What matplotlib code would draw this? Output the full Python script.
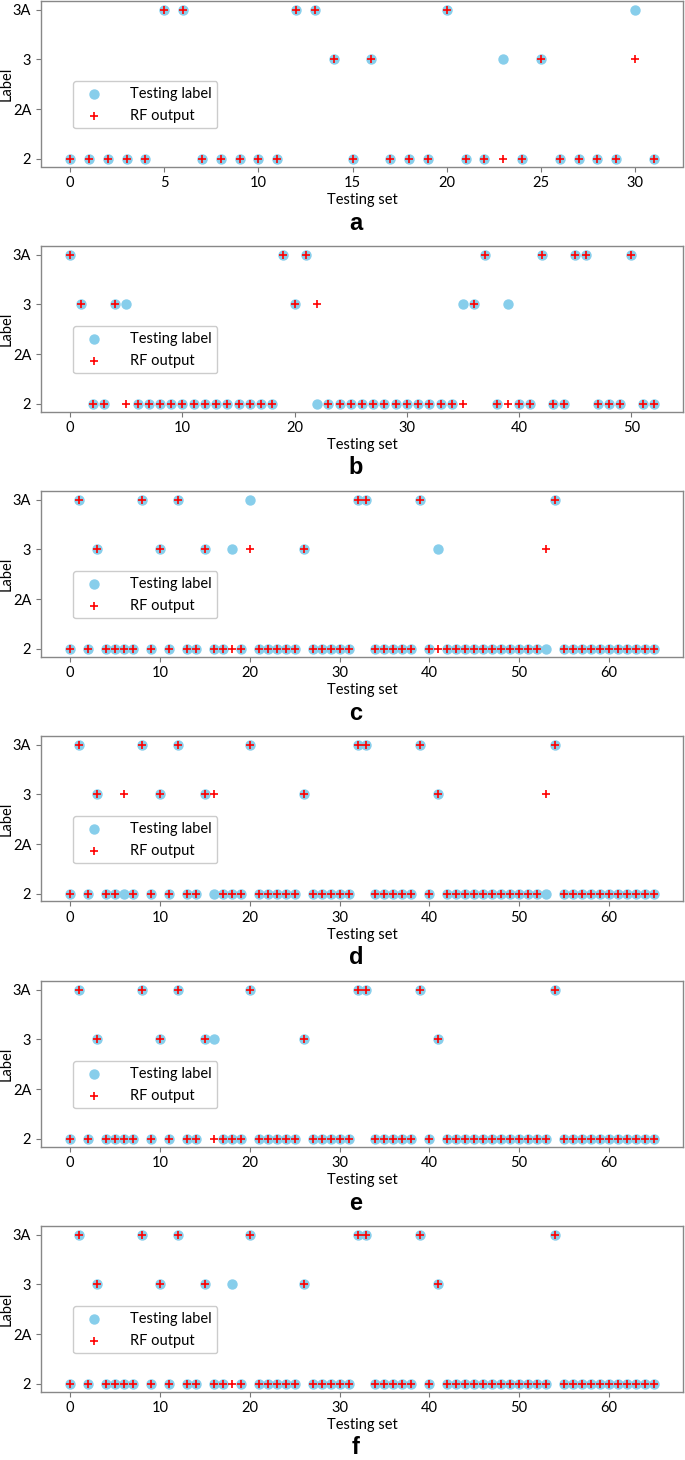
import matplotlib

matplotlib.use("Agg")
import numpy as np
from matplotlib import pyplot as plt

# y levels, bottom to top
LEVELS = ["2", "2A", "3", "3A"]
PANEL_NAMES = ["a", "b", "c", "d", "e", "f"]

# panel a: 32 test samples
truth_a = ["2", "2", "2", "2", "2", "3A", "3A", "2", "2", "2", "2", "2", "3A", "3A", "3", "2",
           "3", "2", "2", "2", "3A", "2", "2", "3", "2", "3", "2", "2", "2", "2", "3A", "2"]
pred_a = ["2", "2", "2", "2", "2", "3A", "3A", "2", "2", "2", "2", "2", "3A", "3A", "3", "2",
          "3", "2", "2", "2", "3A", "2", "2", "2", "2", "3", "2", "2", "2", "2", "3", "2"]

# panel b: 53 test samples
truth_b = ["3A", "3", "2", "2", "3", "3", "2", "2", "2", "2", "2", "2", "2", "2", "2", "2",
           "2", "2", "2", "3A", "3", "3A", "2", "2", "2", "2", "2", "2", "2", "2", "2", "2",
           "2", "2", "2", "3", "3", "3A", "2", "3", "2", "2", "3A", "2", "2", "3A", "3A", "2",
           "2", "2", "3A", "2", "2"]
pred_b = ["3A", "3", "2", "2", "3", "2", "2", "2", "2", "2", "2", "2", "2", "2", "2", "2",
          "2", "2", "2", "3A", "3", "3A", "3", "2", "2", "2", "2", "2", "2", "2", "2", "2",
          "2", "2", "2", "2", "3", "3A", "2", "2", "2", "2", "3A", "2", "2", "3A", "3A", "2",
          "2", "2", "3A", "2", "2"]

# panels c-f: 66 test samples
truth_c = ["2", "3A", "2", "3", "2", "2", "2", "2", "3A", "2", "3", "2", "3A", "2", "2", "3",
           "2", "2", "3", "2", "3A", "2", "2", "2", "2", "2", "3", "2", "2", "2", "2", "2",
           "3A", "3A", "2", "2", "2", "2", "2", "3A", "2", "3", "2", "2", "2", "2", "2", "2",
           "2", "2", "2", "2", "2", "2", "3A", "2", "2", "2", "2", "2", "2", "2", "2", "2",
           "2", "2"]
pred_c = ["2", "3A", "2", "3", "2", "2", "2", "2", "3A", "2", "3", "2", "3A", "2", "2", "3",
          "2", "2", "2", "2", "3", "2", "2", "2", "2", "2", "3", "2", "2", "2", "2", "2",
          "3A", "3A", "2", "2", "2", "2", "2", "3A", "2", "2", "2", "2", "2", "2", "2", "2",
          "2", "2", "2", "2", "2", "3", "3A", "2", "2", "2", "2", "2", "2", "2", "2", "2",
          "2", "2"]

truth_d = ["2", "3A", "2", "3", "2", "2", "2", "2", "3A", "2", "3", "2", "3A", "2", "2", "3",
           "2", "2", "2", "2", "3A", "2", "2", "2", "2", "2", "3", "2", "2", "2", "2", "2",
           "3A", "3A", "2", "2", "2", "2", "2", "3A", "2", "3", "2", "2", "2", "2", "2", "2",
           "2", "2", "2", "2", "2", "2", "3A", "2", "2", "2", "2", "2", "2", "2", "2", "2",
           "2", "2"]
pred_d = ["2", "3A", "2", "3", "2", "2", "3", "2", "3A", "2", "3", "2", "3A", "2", "2", "3",
          "3", "2", "2", "2", "3A", "2", "2", "2", "2", "2", "3", "2", "2", "2", "2", "2",
          "3A", "3A", "2", "2", "2", "2", "2", "3A", "2", "3", "2", "2", "2", "2", "2", "2",
          "2", "2", "2", "2", "2", "3", "3A", "2", "2", "2", "2", "2", "2", "2", "2", "2",
          "2", "2"]

truth_e = ["2", "3A", "2", "3", "2", "2", "2", "2", "3A", "2", "3", "2", "3A", "2", "2", "3",
           "3", "2", "2", "2", "3A", "2", "2", "2", "2", "2", "3", "2", "2", "2", "2", "2",
           "3A", "3A", "2", "2", "2", "2", "2", "3A", "2", "3", "2", "2", "2", "2", "2", "2",
           "2", "2", "2", "2", "2", "2", "3A", "2", "2", "2", "2", "2", "2", "2", "2", "2",
           "2", "2"]
pred_e = ["2", "3A", "2", "3", "2", "2", "2", "2", "3A", "2", "3", "2", "3A", "2", "2", "3",
          "2", "2", "2", "2", "3A", "2", "2", "2", "2", "2", "3", "2", "2", "2", "2", "2",
          "3A", "3A", "2", "2", "2", "2", "2", "3A", "2", "3", "2", "2", "2", "2", "2", "2",
          "2", "2", "2", "2", "2", "2", "3A", "2", "2", "2", "2", "2", "2", "2", "2", "2",
          "2", "2"]

truth_f = ["2", "3A", "2", "3", "2", "2", "2", "2", "3A", "2", "3", "2", "3A", "2", "2", "3",
           "2", "2", "3", "2", "3A", "2", "2", "2", "2", "2", "3", "2", "2", "2", "2", "2",
           "3A", "3A", "2", "2", "2", "2", "2", "3A", "2", "3", "2", "2", "2", "2", "2", "2",
           "2", "2", "2", "2", "2", "2", "3A", "2", "2", "2", "2", "2", "2", "2", "2", "2",
           "2", "2"]
pred_f = ["2", "3A", "2", "3", "2", "2", "2", "2", "3A", "2", "3", "2", "3A", "2", "2", "3",
          "2", "2", "2", "2", "3A", "2", "2", "2", "2", "2", "3", "2", "2", "2", "2", "2",
          "3A", "3A", "2", "2", "2", "2", "2", "3A", "2", "3", "2", "2", "2", "2", "2", "2",
          "2", "2", "2", "2", "2", "2", "3A", "2", "2", "2", "2", "2", "2", "2", "2", "2",
          "2", "2"]

PANELS = [
    (truth_a, pred_a),
    (truth_b, pred_b),
    (truth_c, pred_c),
    (truth_d, pred_d),
    (truth_e, pred_e),
    (truth_f, pred_f),
]

FIG_W, FIG_H = 685, 1460
AX_LEFT, AX_RIGHT = 41, 683
AX_TOP, AX_BOTTOM = 1, 166.5
STEP = 245
LETTER_Y = 223


def to_level(values):
    return np.array([LEVELS.index(v) for v in values])


def draw_panel(fig, idx, truth, pred):
    top = AX_TOP + STEP * idx
    bottom = AX_BOTTOM + STEP * idx
    ax = fig.add_axes([
        AX_LEFT / FIG_W,
        1 - bottom / FIG_H,
        (AX_RIGHT - AX_LEFT) / FIG_W,
        (bottom - top) / FIG_H,
    ])
    x = np.arange(len(truth))
    ax.scatter(x, to_level(truth), s=42, color="skyblue", label="Testing label", zorder=2)
    ax.scatter(x, to_level(pred), s=32, marker="+", color="red", linewidths=1.2,
               label="RF output", zorder=3)

    ax.set_yticks(range(len(LEVELS)))
    ax.set_yticklabels(LEVELS)
    ax.set_ylim(-0.16, 3.18)
    ax.set_xlabel("Testing set", fontsize=10.5, labelpad=2)
    ax.set_ylabel("Label", fontsize=10.5)
    # keep the y label inside the figure's left edge
    ax.yaxis.set_label_coords(-0.042, 0.5)
    ax.tick_params(labelsize=10.5, color="#777777", length=3.5)
    for spine in ax.spines.values():
        spine.set_color("#888888")
        spine.set_linewidth(1.0)

    ax.legend(loc="lower left", bbox_to_anchor=(0.05, 0.23), borderaxespad=0,
              fontsize=10.5, handletextpad=1.5, scatterpoints=1,
              edgecolor="#cccccc", framealpha=1.0)

    fig.text(356 / FIG_W, 1 - (LETTER_Y + STEP * idx) / FIG_H, PANEL_NAMES[idx],
             ha="center", va="center", fontsize=17, fontweight="bold",
             family="Liberation Sans")


def main():
    plt.rcParams["font.family"] = ["Lato", "DejaVu Sans"]
    fig = plt.figure(figsize=(FIG_W / 100, FIG_H / 100), dpi=100)
    for idx, (truth, pred) in enumerate(PANELS):
        draw_panel(fig, idx, truth, pred)
    fig.savefig("out.png", dpi=100)
    plt.close(fig)


if __name__ == "__main__":
    main()
